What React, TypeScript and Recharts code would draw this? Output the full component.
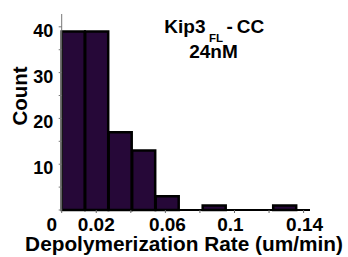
import React from 'react';
import { BarChart, Bar, XAxis, YAxis, Label } from 'recharts';

// Histogram bins (bin centres, um/min) and counts
const binCenters = [0.0068, 0.0204, 0.034, 0.0476, 0.0612, 0.0748, 0.0884, 0.102, 0.1156, 0.1292];
const counts = [39, 39, 17, 13, 3, 0, 1, 0, 0, 1];

const xTicks = [0, 0.02, 0.04, 0.06, 0.08, 0.1, 0.12, 0.14];
const xTickLabels: Record<string, string> = { '0': '0', '0.02': '0.02', '0.06': '0.06', '0.1': '0.1', '0.14': '0.14' };
const xTickShift: Record<string, number> = { '0': -10, '0.02': 0, '0.06': 2, '0.1': -4, '0.14': 1 };
const yTicks = [0, 5, 10, 15, 20, 25, 30, 35, 40];
const yTickLabels = [10, 20, 30, 40];

const data = binCenters.map((c, i) => ({ center: c, count: counts[i] }));

const FONT = '"Liberation Sans", Arial, sans-serif';

const XTick = (props: any) => {
  const { x, y, payload } = props;
  const key = String(+payload.value.toFixed(4));
  const label = xTickLabels[key];
  if (!label) return <g />;
  return (
    <text x={x + (xTickShift[key] || 0)} y={y} dy={18.2} textAnchor="middle"
      fontFamily={FONT} fontWeight="bold" fontSize={19} fill="#000">
      {label}
    </text>
  );
};

const YTick = (props: any) => {
  const { y, payload } = props;
  if (!yTickLabels.includes(payload.value)) return <g />;
  return (
    <text x={53.3} y={y} dy={10} textAnchor="end"
      fontFamily={FONT} fontWeight="bold" fontSize={18} fill="#000">
      {payload.value}
    </text>
  );
};

export default function App() {
  return (
    <div style={{ position: 'absolute', left: 0, top: 0, width: 348, height: 257, background: '#fff' }}>
      <BarChart width={348} height={257} data={data}
        margin={{ top: 14, right: 38, bottom: 0, left: 1.7 }}
        barCategoryGap={0} barGap={0}>
        <XAxis dataKey="center" type="number" domain={[0, 0.1437]} ticks={xTicks} interval={0}
          height={47} tick={<XTick />} tickSize={3} tickMargin={0}
          axisLine={{ stroke: '#000', strokeWidth: 2 }} tickLine={{ stroke: '#666' }}>
          <Label content={() => (
            <text x={184} y={250.5} textAnchor="middle" fontFamily={FONT} fontWeight="bold" fontSize={20.8} fill="#000">
              Depolymerization Rate (um/min)
            </text>
          )} />
        </XAxis>
        <YAxis type="number" domain={[0, 42.8]} ticks={yTicks} interval={0} width={60}
          tick={<YTick />} tickSize={3} axisLine={{ stroke: '#777', strokeWidth: 1 }} tickLine={{ stroke: '#777' }}>
          <Label content={() => (
            <text x={26.7} y={96} transform="rotate(-90 26.7 96)" textAnchor="middle"
              fontFamily={FONT} fontWeight="bold" fontSize={20.5} fill="#000">
              Count
            </text>
          )} />
        </YAxis>
        <Bar dataKey="count" fill="#260838" stroke="#000" strokeWidth={2.5} isAnimationActive={false} />
      </BarChart>
      <svg width={348} height={257} style={{ position: 'absolute', left: 0, top: 0, pointerEvents: 'none' }}>
        <text y={33.3} fontFamily={FONT} fontWeight="bold" fill="#000">
          <tspan x={164.3} fontSize={19}>Kip3</tspan>
          <tspan x={209} y={41.5} fontSize={11.5}>FL</tspan>
          <tspan x={226.5} y={33.3} fontSize={19}>-</tspan>
          <tspan x={236.7} fontSize={19}>CC</tspan>
        </text>
        <text x={213.5} y={58} textAnchor="middle" fontFamily={FONT} fontWeight="bold" fontSize={19} fill="#000">
          24nM
        </text>
      </svg>
    </div>
  );
}
